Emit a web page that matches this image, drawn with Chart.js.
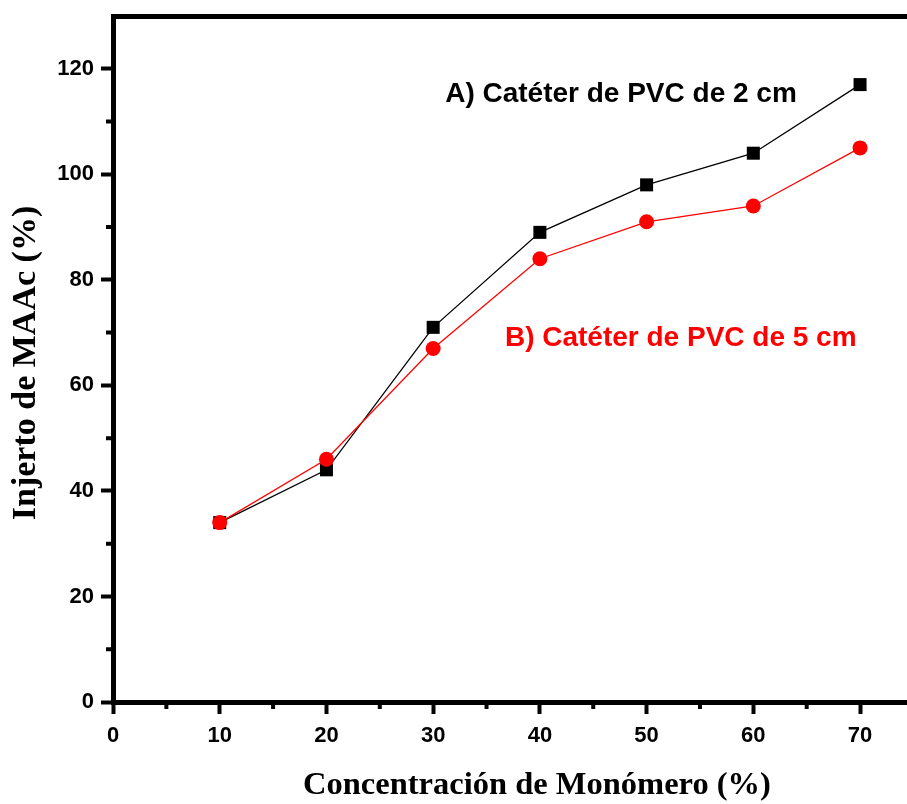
<!DOCTYPE html>
<html>
<head>
<meta charset="utf-8">
<script src="https://cdn.jsdelivr.net/npm/chart.js@4.4.0/dist/chart.umd.min.js"></script>
<style>
html, body { margin: 0; padding: 0; background: #fff; overflow: hidden; }
canvas { display: block; }
</style>
</head>
<body>
<canvas id="chart" width="907" height="804"></canvas>
<script>
// data
const concentration = [10, 20, 30, 40, 50, 60, 70];
const graft2cm = [34, 44, 71, 89, 98, 104, 117];
const graft5cm = [34, 46, 67, 84, 91, 94, 105];

// tick labels
const xTicks = [0, 10, 20, 30, 40, 50, 60, 70];
const yTicks = [0, 20, 40, 60, 80, 100, 120];
const xMinor = [5, 15, 25, 35, 45, 55, 65];
const yMinor = [10, 30, 50, 70, 90, 110];

const labelA = 'A) Catéter de PVC de 2 cm';
const labelB = 'B) Catéter de PVC de 5 cm';
const xTitle = 'Concentración de Monómero (%)';
const yTitle = 'Injerto de MAAc (%)';

const sans = '"Liberation Sans", Arial, sans-serif';
const serif = '"Liberation Serif", "Times New Roman", serif';

// no extra padding from the scales, the plot fills the frame
const noPad = s => {
    s.paddingLeft = 0;
    s.paddingRight = 0;
    s.paddingTop = 0;
    s.paddingBottom = 0;
};

/* text notes inside the plot + axis titles */
const notesPlugin = {
    id: 'notes',
    afterDatasetsDraw(chart) {
        const { ctx, scales: { x, y } } = chart;
        ctx.save();
        ctx.textAlign = 'center';
        ctx.textBaseline = 'middle';

        ctx.font = 'bold 28px ' + sans;
        ctx.fillStyle = '#000';
        ctx.fillText(labelA, x.getPixelForValue(47.6), y.getPixelForValue(115.1));
        ctx.fillStyle = '#ff0000';
        ctx.fillText(labelB, x.getPixelForValue(53.2), y.getPixelForValue(69));

        // axis titles
        ctx.fillStyle = '#000';
        ctx.font = 'bold 32.5px ' + serif;
        ctx.fillText(xTitle, 537, 786);
        ctx.translate(26, 363);
        ctx.rotate(-Math.PI / 2);
        ctx.font = 'bold 34px ' + serif;
        ctx.fillText(yTitle, 0, 0);
        ctx.restore();
    }
};

/* short minor ticks on both axes */
const minorTicks = {
    id: 'minorTicks',
    afterDraw(chart) {
        const { ctx, scales: { x, y }, chartArea } = chart;
        ctx.save();
        ctx.strokeStyle = '#000';
        ctx.lineWidth = 4;
        ctx.beginPath();
        yMinor.forEach(v => {
            const py = y.getPixelForValue(v);
            ctx.moveTo(chartArea.left - 7, py);
            ctx.lineTo(chartArea.left, py);
        });
        xMinor.forEach(v => {
            const px = x.getPixelForValue(v);
            ctx.moveTo(px, chartArea.bottom);
            ctx.lineTo(px, chartArea.bottom + 7);
        });
        ctx.stroke();
        ctx.restore();
    }
};

const ctx = document.getElementById('chart').getContext('2d');
new Chart(ctx, {
    type: 'line',
    data: {
        datasets: [
            {
                label: labelB,
                data: concentration.map((c, i) => ({ x: c, y: graft5cm[i] })),
                borderColor: '#ff0000',
                backgroundColor: '#ff0000',
                borderWidth: 1.3,
                pointStyle: 'circle',
                pointRadius: 7.5,
                pointBorderWidth: 0,
                order: 0
            },
            {
                label: labelA,
                data: concentration.map((c, i) => ({ x: c, y: graft2cm[i] })),
                borderColor: '#000',
                backgroundColor: '#000',
                borderWidth: 1.3,
                pointStyle: 'rect',
                pointRadius: 9.2,
                pointBorderWidth: 0,
                order: 1
            }
        ]
    },
    options: {
        responsive: false,
        animation: false,
        devicePixelRatio: 1,
        layout: { padding: 0, autoPadding: false },
        plugins: {
            legend: { display: false },
            tooltip: { enabled: false }
        },
        scales: {
            x: {
                type: 'linear',
                position: 'bottom',
                min: 0,
                max: 74.4,
                afterBuildTicks: s => { s.ticks = xTicks.map(v => ({ value: v })); },
                afterFit: s => { s.height = 102; noPad(s); },
                ticks: {
                    color: '#000',
                    font: { family: sans, size: 22, weight: 'bold' },
                    padding: 9,
                    maxRotation: 0
                },
                grid: {
                    drawOnChartArea: false,
                    tickLength: 12,
                    tickWidth: 4,
                    tickColor: '#000'
                },
                border: { color: '#000', width: 5 }
            },
            xTop: {
                type: 'linear',
                position: 'top',
                min: 0,
                max: 74.4,
                afterFit: s => { s.height = 16; noPad(s); },
                ticks: { display: false },
                grid: { drawOnChartArea: false, drawTicks: false },
                border: { color: '#000', width: 5 }
            },
            y: {
                type: 'linear',
                min: 0,
                max: 130,
                afterBuildTicks: s => { s.ticks = yTicks.map(v => ({ value: v })); },
                afterFit: s => { s.width = 113; noPad(s); },
                ticks: {
                    color: '#000',
                    font: { family: sans, size: 22, weight: 'bold' },
                    padding: 7
                },
                grid: {
                    drawOnChartArea: false,
                    tickLength: 12,
                    tickWidth: 4,
                    tickColor: '#000'
                },
                border: { color: '#000', width: 5 }
            }
        }
    },
    plugins: [notesPlugin, minorTicks]
});
</script>
</body>
</html>
